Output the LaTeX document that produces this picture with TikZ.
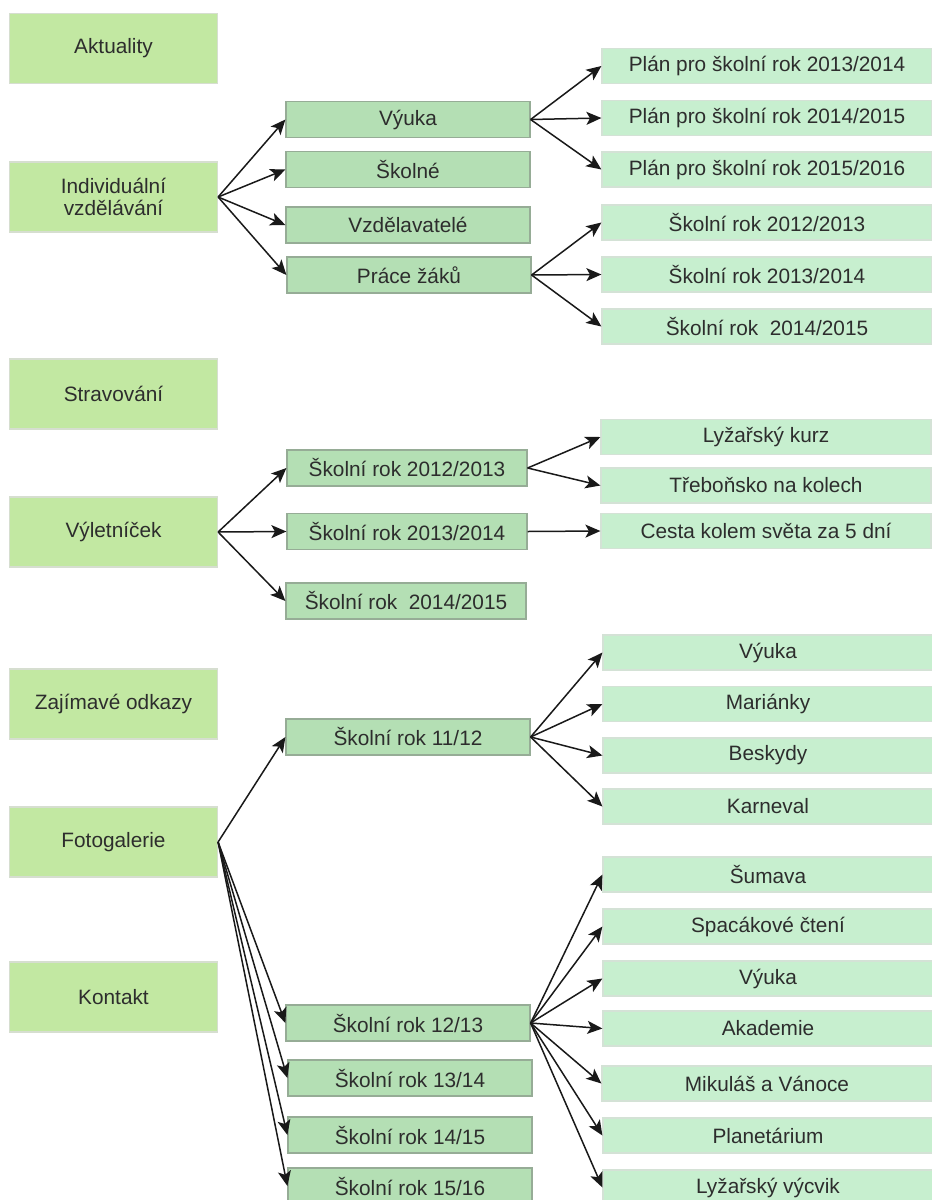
\documentclass[tikz,border=0pt]{standalone}
\usepackage{fontspec}
\setmainfont{Liberation Sans}
\usetikzlibrary{arrows.meta}
\definecolor{topfill}{RGB}{194,232,162}
\definecolor{topline}{RGB}{214,222,208}
\definecolor{midfill}{RGB}{180,223,180}
\definecolor{midline}{RGB}{150,172,150}
\definecolor{leaffill}{RGB}{199,239,207}
\definecolor{leafline}{RGB}{212,226,214}
\definecolor{txt}{RGB}{45,45,45}
\tikzset{>={Stealth[length=7.5pt,width=6.5pt,inset=1.8pt]}}
\tikzset{
  box/.style={rectangle, inner sep=0pt, text=txt, align=center,
    font=\fontsize{10.4}{10.6}\selectfont, line width=0.6pt},
  topbox/.style={box, fill=topfill, draw=topline, minimum width=104pt, minimum height=35pt},
  midbox/.style={box, fill=midfill, draw=midline, minimum width=122pt, minimum height=18pt},
  leafbox/.style={box, fill=leaffill, draw=leafline, minimum width=165pt, minimum height=17.5pt},
  link/.style={->, line width=0.75pt, black!90}
}

\begin{document}
\begin{tikzpicture}[x=0.5pt, y=-0.5pt]

    \useasboundingbox (0,0) rectangle (932,1200);

    % main menu
    \node[topbox] (akt) at (113.5,48.5) {Aktuality};
    \node[topbox] (ivz) at (113.5,197) {Individuální\\vzdělávání};
    \node[topbox] (strav) at (113.5,394) {Stravování};
    \node[topbox] (vylet) at (113.5,532) {Výletníček};
    \node[topbox] (odkazy) at (113.5,704) {Zajímavé odkazy};
    \node[topbox] (foto) at (113.5,842) {Fotogalerie};
    \node[topbox] (kontakt) at (113.5,997) {Kontakt};

    % submenus
    \node[midbox] (vyuka) at (408,119.5) {Výuka};
    \node[midbox] (skolne) at (408,169.5) {Školné};
    \node[midbox] (vzdel) at (408,225) {Vzdělavatelé};
    \node[midbox] (prace) at (409,275) {Práce žáků};

    \node[midbox, minimum width=120pt] (v1213) at (407,468) {Školní rok 2012/2013};
    \node[midbox, minimum width=120pt] (v1314) at (407,531.5) {Školní rok 2013/2014};
    \node[midbox, minimum width=120pt] (v1415) at (406,601) {Školní rok \ 2014/2015};

    \node[midbox] (f1112) at (408,737) {Školní rok 11/12};
    \node[midbox] (f1213) at (408,1023) {Školní rok 12/13};
    \node[midbox] (f1314) at (410,1078) {Školní rok 13/14};
    \node[midbox] (f1415) at (410,1135) {Školní rok 14/15};
    \node[midbox] (f1516) at (410,1186) {Školní rok 15/16};

    % leaves
    \node[leafbox] (plan1) at (767,66) {Plán pro školní rok 2013/2014};
    \node[leafbox] (plan2) at (767,118) {Plán pro školní rok 2014/2015};
    \node[leafbox] (plan3) at (767,169.5) {Plán pro školní rok 2015/2016};
    \node[leafbox] (pz1) at (767,222.5) {Školní rok 2012/2013};
    \node[leafbox] (pz2) at (767,274.5) {Školní rok 2013/2014};
    \node[leafbox] (pz3) at (767,326.5) {Školní rok \ 2014/2015};

    \node[leafbox] (lyz) at (766,437) {Lyžařský kurz};
    \node[leafbox] (treb) at (766,485.5) {Třeboňsko na kolech};
    \node[leafbox] (cesta) at (766,531) {Cesta kolem světa za 5 dní};

    \node[leafbox] (fvyuka) at (768,652.5) {Výuka};
    \node[leafbox] (marianky) at (768,704) {Mariánky};
    \node[leafbox] (beskydy) at (768,755.5) {Beskydy};
    \node[leafbox] (karneval) at (768,806.5) {Karneval};

    \node[leafbox] (sumava) at (768,874.5) {Šumava};
    \node[leafbox] (spacak) at (768,926.5) {Spacákové čtení};
    \node[leafbox] (gvyuka) at (768,978.5) {Výuka};
    \node[leafbox] (akademie) at (768,1028.5) {Akademie};
    \node[leafbox] (mikulas) at (767,1083.5) {Mikuláš a Vánoce};
    \node[leafbox] (planet) at (768,1135.5) {Planetárium};
    \node[leafbox] (lyzvyc) at (768,1187.5) {Lyžařský výcvik};

    % links
    \draw[link] (ivz.east) -- (vyuka.west);
    \draw[link] (ivz.east) -- (skolne.west);
    \draw[link] (ivz.east) -- (vzdel.west);
    \draw[link] (ivz.east) -- (prace.west);

    \draw[link] (vyuka.east) -- (plan1.west);
    \draw[link] (vyuka.east) -- (plan2.west);
    \draw[link] (vyuka.east) -- (plan3.west);
    \draw[link] (prace.east) -- (pz1.west);
    \draw[link] (prace.east) -- (pz2.west);
    \draw[link] (prace.east) -- (pz3.west);

    \draw[link] (vylet.east) -- (v1213.west);
    \draw[link] (vylet.east) -- (v1314.west);
    \draw[link] (vylet.east) -- (v1415.west);
    \draw[link] (v1213.east) -- (lyz.west);
    \draw[link] (v1213.east) -- (treb.west);
    \draw[link] (v1314.east) -- (cesta.west);

    \draw[link] (foto.east) -- (f1112.west);
    \draw[link] (foto.east) -- (f1213.west);
    \draw[link] (foto.east) -- (f1314.west);
    \draw[link] (foto.east) -- (f1415.west);
    \draw[link] (foto.east) -- (f1516.west);

    \draw[link] (f1112.east) -- (fvyuka.west);
    \draw[link] (f1112.east) -- (marianky.west);
    \draw[link] (f1112.east) -- (beskydy.west);
    \draw[link] (f1112.east) -- (karneval.west);

    \draw[link] (f1213.east) -- (sumava.west);
    \draw[link] (f1213.east) -- (spacak.west);
    \draw[link] (f1213.east) -- (gvyuka.west);
    \draw[link] (f1213.east) -- (akademie.west);
    \draw[link] (f1213.east) -- (mikulas.west);
    \draw[link] (f1213.east) -- (planet.west);
    \draw[link] (f1213.east) -- (lyzvyc.west);

\end{tikzpicture}
\end{document}
